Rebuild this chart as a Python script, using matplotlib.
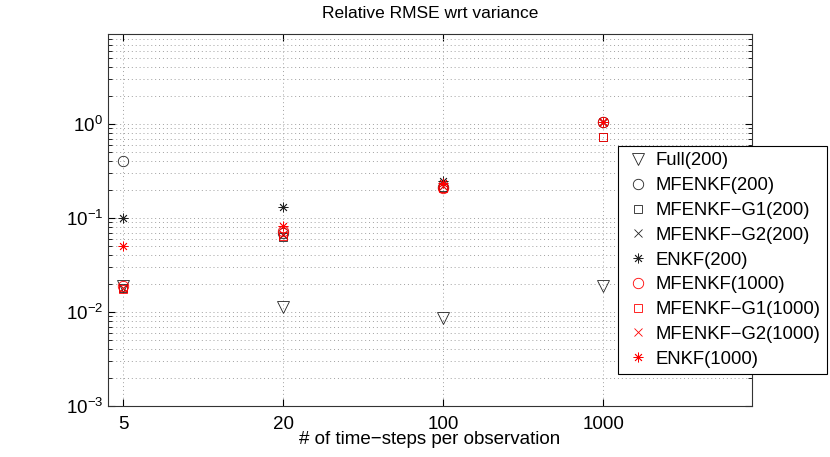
import matplotlib
matplotlib.use("Agg")
import matplotlib.pyplot as plt
from matplotlib.ticker import LogLocator, NullFormatter, FixedLocator

plt.rcParams['font.family'] = ['Liberation Sans', 'DejaVu Sans']
plt.rcParams['mathtext.fontset'] = 'custom'
plt.rcParams['mathtext.rm'] = 'Liberation Sans'
plt.rcParams['mathtext.it'] = 'Liberation Sans:italic'

categories = ['5', '20', '100', '1000']
labels = ['Full(200)', 'MFENKF(200)', 'MFENKF\u2212G1(200)', 'MFENKF\u2212G2(200)', 'ENKF(200)',
          'MFENKF(1000)', 'MFENKF\u2212G1(1000)', 'MFENKF\u2212G2(1000)', 'ENKF(1000)']
full_200 = [0.019, 0.0112, 0.0086, 0.019]
mfenkf_200 = [0.40, 0.070, 0.215, 1.05]
mfenkf_g1_200 = [0.018, 0.063, 0.215, 0.72]
mfenkf_g2_200 = [0.018, 0.066, 0.22, 1.04]
enkf_200 = [0.10, 0.13, 0.245, 1.06]
mfenkf_1000 = [0.019, 0.072, 0.21, 1.05]
mfenkf_g1_1000 = [0.0175, 0.064, 0.21, 0.72]
mfenkf_g2_1000 = [0.018, 0.067, 0.22, 1.04]
enkf_1000 = [0.050, 0.083, 0.235, 1.06]

series = [full_200, mfenkf_200, mfenkf_g1_200, mfenkf_g2_200, enkf_200,
          mfenkf_1000, mfenkf_g1_1000, mfenkf_g2_1000, enkf_1000]
markers = ['v', 'o', 's', 'x', (8, 2, 0), 'o', 's', 'x', (8, 2, 0)]
sizes = [8, 7.5, 6, 6, 7, 7.5, 6, 6, 7]
colors = ['#222222'] * 5 + ['red'] * 4

fig = plt.figure(figsize=(8.3, 4.57), dpi=100)
ax = fig.add_axes([0.130, 0.1116, 0.776, 0.8134])

xpos = list(range(1, len(categories) + 1))
for vals, lab, m, ms, c in zip(series, labels, markers, sizes, colors):
    ax.plot(xpos, vals, linestyle='none', marker=m, markersize=ms,
            markerfacecolor='none', markeredgecolor=c, markeredgewidth=0.6,
            color=c, label=lab)

ax.set_yscale('log')
ax.set_ylim(1e-3, 9.0)
ax.set_xlim(0.905, 4.93)
ax.xaxis.set_major_locator(FixedLocator(xpos))
ax.set_xticklabels(categories)
ax.yaxis.set_major_locator(LogLocator(base=10, numticks=10))
ax.yaxis.set_minor_locator(LogLocator(base=10, subs=range(2, 10), numticks=20))
ax.yaxis.set_minor_formatter(NullFormatter())

ax.grid(True, which='major', axis='both', linestyle=(0, (1, 3)), color='#a0a0a0', linewidth=0.7)
ax.grid(True, which='minor', axis='y', linestyle=(0, (1, 3)), color='#a0a0a0', linewidth=0.7)
ax.set_axisbelow(True)

ax.tick_params(which='both', direction='in', top=True, right=True, labelsize=13.5, colors='black')
ax.tick_params(which='major', length=5, width=0.8)
ax.tick_params(which='minor', length=3, width=0.6)
ax.tick_params(axis='x', pad=7)
for s in ax.spines.values():
    s.set_linewidth(0.8)
    s.set_color('#333333')

ax.set_title('Relative RMSE wrt variance', fontsize=12.5, y=1.0565, pad=0,
             verticalalignment='center')
ax.set_xlabel('# of time\u2212steps per observation', fontsize=13.5, labelpad=-1)

leg = ax.legend(loc='upper left', bbox_to_anchor=(0.7446, 0.6805),
                bbox_transform=fig.transFigure, borderaxespad=0, fontsize=13.3,
                frameon=True, fancybox=False, framealpha=1, edgecolor='black',
                labelspacing=0.42, handlelength=1.46, handletextpad=0.24, borderpad=0.35)
leg.get_frame().set_linewidth(0.8)

fig.savefig('out.png', dpi=100)
